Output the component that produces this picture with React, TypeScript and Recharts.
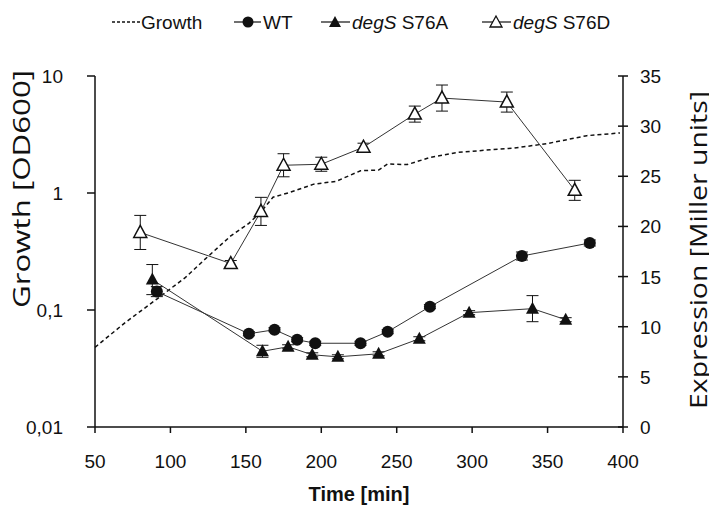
import React from 'react';
import { ComposedChart, Line, XAxis, YAxis, ErrorBar } from 'recharts';

const INK = '#111';
const LINE = '#333';
const TICK_FONT = '"Liberation Sans", Arial, sans-serif';
const TITLE_FONT = '"Open Sans", "Noto Sans", sans-serif';

// growth curve (left axis, log scale)
const growthTime = [50, 70, 91, 110, 122, 140, 152, 160, 168, 179, 195, 210, 226, 238, 244, 257, 272, 290, 312, 328, 350, 376, 398];
const growthOD = [0.048, 0.078, 0.124, 0.19, 0.265, 0.43, 0.55, 0.69, 0.92, 1.01, 1.19, 1.26, 1.55, 1.57, 1.77, 1.75, 2.01, 2.22, 2.34, 2.42, 2.65, 3.09, 3.26];

// expression series (right axis, Miller units)
const wtTime = [91, 152, 169, 184, 196, 226, 244, 272, 333, 378];
const wtExpr = [13.5, 9.3, 9.7, 8.7, 8.35, 8.35, 9.5, 12.0, 17.05, 18.35];
const wtErr = [0.5, 0.2, 0.2, 0.2, 0.2, 0.2, 0.2, 0.2, 0.4, 0.3];

const s76aTime = [88, 161, 178, 194, 211, 238, 265, 298, 340, 362];
const s76aExpr = [14.7, 7.55, 8.0, 7.2, 7.0, 7.3, 8.8, 11.4, 11.8, 10.7];
const s76aErr = [1.5, 0.6, 0.2, 0.2, 0.2, 0.2, 0.2, 0.2, 1.3, 0.2];

const s76dTime = [80, 140, 160, 175, 200, 228, 262, 280, 323, 368];
const s76dExpr = [19.4, 16.3, 21.5, 26.1, 26.2, 27.9, 31.2, 32.8, 32.4, 23.6];
const s76dErr = [1.7, 0.3, 1.4, 1.15, 0.7, 0.4, 0.8, 1.3, 1.0, 1.0];

const xTicks = [50, 100, 150, 200, 250, 300, 350, 400];
const leftTicks = [0.01, 0.1, 1, 10];
const rightTicks = [0, 5, 10, 15, 20, 25, 30, 35];

const growthRows = growthTime.map((t, i) => ({ t, od: growthOD[i] }));
const wtRows = wtTime.map((t, i) => ({ t, v: wtExpr[i], err: wtErr[i] }));
const s76aRows = s76aTime.map((t, i) => ({ t, v: s76aExpr[i], err: s76aErr[i] }));
const s76dRows = s76dTime.map((t, i) => ({ t, v: s76dExpr[i], err: s76dErr[i] }));

const fmtLeft = (v: number) => String(v).replace('.', ',');

function LeftTick({ x, y, payload }: any) {
  return (
    <g>
      <line x1={x - 8} x2={x} y1={y} y2={y} stroke={INK} strokeWidth={1.5} />
      <text x={x - 32} y={y} dy={7} textAnchor="end" fontSize={19} fontFamily={TICK_FONT} fill={INK}>
        {fmtLeft(payload.value)}
      </text>
    </g>
  );
}

function RightTick({ x, y, payload }: any) {
  return (
    <g>
      <line x1={x - 5} x2={x + 5} y1={y} y2={y} stroke={INK} strokeWidth={1.5} />
      <text x={x + 17} y={y} dy={7} textAnchor="start" fontSize={19} fontFamily={TICK_FONT} fill={INK}>
        {payload.value}
      </text>
    </g>
  );
}

function BottomTick({ x, y, payload }: any) {
  return (
    <g>
      <line x1={x} x2={x} y1={y} y2={y + 6} stroke={INK} strokeWidth={1.5} />
      <text x={x} y={y + 41} textAnchor="middle" fontSize={19} fontFamily={TICK_FONT} fill={INK}>
        {payload.value}
      </text>
    </g>
  );
}

const dot = (kind: 'circle' | 'tri' | 'open') => (p: any) => {
  const { cx, cy, index } = p;
  if (cx == null || cy == null) return <g key={`${kind}-${index}`} />;
  if (kind === 'circle') return <circle key={`${kind}-${index}`} cx={cx} cy={cy} r={6} fill={INK} />;
  const pts = `${cx},${cy - 7} ${cx - 6.5},${cy + 5} ${cx + 6.5},${cy + 5}`;
  return kind === 'tri'
    ? <polygon key={`${kind}-${index}`} points={pts} fill={INK} />
    : <polygon key={`${kind}-${index}`} points={pts} fill="#fff" stroke={INK} strokeWidth={1.5} />;
};

function LeftTitle() {
  return (
    <text x={20} y={189} transform="rotate(-90 20 189)" textAnchor="middle" dominantBaseline="central"
      fontSize={24} fontFamily={TITLE_FONT} fill={INK} textLength={238} lengthAdjust="spacingAndGlyphs">
      Growth [OD600]
    </text>
  );
}

function RightTitle() {
  return (
    <text x={697} y={250} transform="rotate(-90 697 250)" textAnchor="middle" dominantBaseline="central"
      fontSize={24} fontFamily={TITLE_FONT} fill={INK} textLength={318} lengthAdjust="spacingAndGlyphs">
      Expression [Miller units]
    </text>
  );
}

function BottomTitle() {
  return (
    <text x={359} y={501} textAnchor="middle" fontSize={20} fontWeight="bold" fontFamily={TICK_FONT} fill={INK}>
      Time [min]
    </text>
  );
}

function ChartLegend() {
  const ty = 22;
  const txt = { fontSize: 19, fontFamily: TICK_FONT, fill: INK } as const;
  return (
    <svg width={717} height={44} style={{ position: 'absolute', left: 0, top: 0 }}>
      <line x1={112} x2={140} y1={ty} y2={ty} stroke={INK} strokeWidth={1.3} strokeDasharray="3 2" />
      <text x={141} y={ty + 7} {...txt}>Growth</text>

      <line x1={234} x2={261} y1={ty} y2={ty} stroke={INK} strokeWidth={1.2} />
      <circle cx={248} cy={ty} r={5.5} fill={INK} />
      <text x={263} y={ty + 7} {...txt}>WT</text>

      <line x1={321} x2={350} y1={ty} y2={ty} stroke={INK} strokeWidth={1.2} />
      <polygon points={`335,${ty - 6} 329,${ty + 5} 341,${ty + 5}`} fill={INK} />
      <text x={352} y={ty + 7} {...txt}><tspan fontStyle="italic">degS</tspan> S76A</text>

      <line x1={482} x2={511} y1={ty} y2={ty} stroke={INK} strokeWidth={1.2} />
      <polygon points={`496,${ty - 6} 490,${ty + 5} 502,${ty + 5}`} fill="#fff" stroke={INK} strokeWidth={1.3} />
      <text x={513} y={ty + 7} {...txt}><tspan fontStyle="italic">degS</tspan> S76D</text>
    </svg>
  );
}

export default function App() {
  return (
    <div style={{ position: 'relative', width: 717, height: 510, margin: '-8px 0 0 -8px', background: '#fff' }}>
      <ComposedChart width={717} height={510} margin={{ top: 76, right: 0, bottom: 0, left: 0 }}>
        <XAxis
          dataKey="t"
          type="number"
          domain={[50, 400]}
          ticks={xTicks}
          allowDuplicatedCategory={false}
          height={83}
          tick={<BottomTick />}
          tickLine={false}
          tickSize={0}
          tickMargin={0}
          axisLine={{ stroke: INK, strokeWidth: 1.5 }}
          label={<BottomTitle />}
        />
        <YAxis
          yAxisId="left"
          orientation="left"
          scale="log"
          domain={[0.01, 10]}
          ticks={leftTicks}
          allowDataOverflow
          width={95}
          tick={<LeftTick />}
          tickLine={false}
          tickSize={0}
          tickMargin={0}
          axisLine={{ stroke: INK, strokeWidth: 1.5 }}
          label={<LeftTitle />}
        />
        <YAxis
          yAxisId="right"
          orientation="right"
          domain={[0, 35]}
          ticks={rightTicks}
          allowDataOverflow
          width={94}
          tick={<RightTick />}
          tickLine={false}
          tickSize={0}
          tickMargin={0}
          axisLine={{ stroke: INK, strokeWidth: 1.5 }}
          label={<RightTitle />}
        />
        <Line
          yAxisId="left"
          data={growthRows}
          dataKey="od"
          type="linear"
          stroke={INK}
          strokeWidth={1.5}
          strokeDasharray="4 3"
          dot={false}
          activeDot={false}
          isAnimationActive={false}
        />
        <Line
          yAxisId="right"
          data={s76dRows}
          dataKey="v"
          type="linear"
          stroke={LINE}
          strokeWidth={1}
          dot={dot('open')}
          activeDot={false}
          isAnimationActive={false}
        >
          <ErrorBar dataKey="err" width={6} stroke={INK} strokeWidth={1} />
        </Line>
        <Line
          yAxisId="right"
          data={wtRows}
          dataKey="v"
          type="linear"
          stroke={LINE}
          strokeWidth={1}
          dot={dot('circle')}
          activeDot={false}
          isAnimationActive={false}
        >
          <ErrorBar dataKey="err" width={6} stroke={INK} strokeWidth={1} />
        </Line>
        <Line
          yAxisId="right"
          data={s76aRows}
          dataKey="v"
          type="linear"
          stroke={LINE}
          strokeWidth={1}
          dot={dot('tri')}
          activeDot={false}
          isAnimationActive={false}
        >
          <ErrorBar dataKey="err" width={6} stroke={INK} strokeWidth={1} />
        </Line>
      </ComposedChart>
      <ChartLegend />
    </div>
  );
}
